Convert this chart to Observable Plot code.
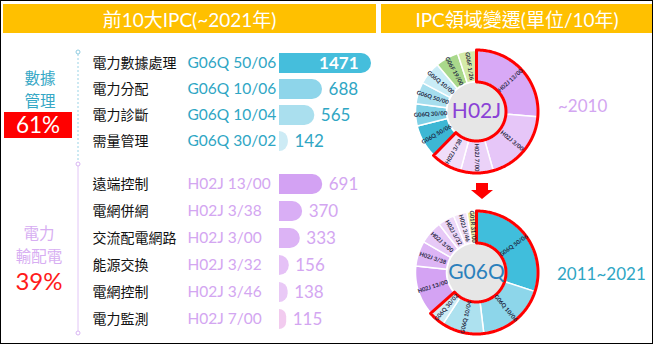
<!DOCTYPE html>
<html><head><meta charset="utf-8">
<script src="https://cdn.jsdelivr.net/npm/d3@7"></script>
<script src="https://cdn.jsdelivr.net/npm/@observablehq/plot@0.6"></script>
<style>
html,body{margin:0;padding:0;background:#fff;}
#frame{position:relative;width:653px;height:344px;box-sizing:border-box;border:1px solid #000;background:#fff;overflow:hidden;font-family:Lato,"Noto Sans CJK TC",sans-serif;}
.hdr{position:absolute;background:#FFC000;color:#fff;font-size:19px;display:flex;align-items:center;justify-content:center;font-family:Lato,"Noto Sans CJK TC",sans-serif;}
.grp{position:absolute;text-align:center;font-family:"Noto Sans CJK TC",sans-serif;overflow:visible;white-space:nowrap;}
</style></head><body>
<div id="frame"></div>
<script>
// ---------- data ----------
const titles = ["前10大IPC(~2021年)", "IPC領域變遷(單位/10年)"];
const groupNames = [["數據","管理"], ["電力","輸配電"]];
const groupShares = ["61%", "39%"];

const cats1 = ["電力數據處理", "電力分配", "電力診斷", "需量管理"];
const codes1 = ["G06Q 50/06", "G06Q 10/06", "G06Q 10/04", "G06Q 30/02"];
const counts1 = [1471, 688, 565, 142];

const cats2 = ["遠端控制", "電網併網", "交流配電網路", "能源交換", "電網控制", "電力監測"];
const codes2 = ["H02J 13/00", "H02J 3/38", "H02J 3/00", "H02J 3/32", "H02J 3/46", "H02J 7/00"];
const counts2 = [691, 370, 333, 156, 138, 115];

const periods = ["~2010", "2011~2021"];
const centerCodes = ["H02J", "G06Q"];

const donut1Labels = ["H02J 13/00", "H02J 3/00", "H02J 7/00", "H02J 3/38", "G06Q 50/06", "G06Q 30/00", "G06Q 50/00", "G06Q 10/00", "G06F 19/00", "G06F 1/26"];
const donut1Shares = [26.4, 19.2, 8.6, 8.1, 8.9, 5.8, 5.8, 6.1, 6.1, 5.0];

const donut2Labels = ["G06Q 50/06", "G06Q 10/06", "G06Q 10/04", "G06Q 30/02", "H02J 13/00", "H02J 3/38", "H02J 3/00", "H02J 3/32", "H02J 3/46", "G01R 31/00"];
const donut2Shares = [30.0, 18.1, 11.1, 4.2, 13.3, 6.7, 6.1, 4.4, 3.6, 2.5];

// ---------- palettes ----------
const barColors1 = ["#45BEDC", "#8ED5EA", "#AADFEE", "#CDEBF5"];
const barColors2 = ["#D3A2F3", "#D9AEF5", "#DCB3F5", "#E5C1F6", "#E9C9F6", "#F2CBEF"];
const donut1Colors = ["#D8A9F6", "#E6C6F8", "#EBD2F8", "#F0DDF9", "#3DB7D4", "#7FD0E6", "#A6DEEE", "#C9ECF6", "#A9D88B", "#D4EBA8"];
const donut2Colors = ["#40BEDC", "#8DD6EA", "#ADE1EF", "#CFECF5", "#D4A3F3", "#DDB5F5", "#E7C9F7", "#EED8F8", "#F3E4F9", "#EEEE9E"];
const TEAL = "#2FA6C4", LAV = "#D3A6F1";
const FONT = "Lato, 'Noto Sans CJK TC', sans-serif";

const frame = document.getElementById("frame");
function place(el, x, y) { el.style.position = "absolute"; el.style.left = (x - 1) + "px"; el.style.top = (y - 1) + "px"; frame.appendChild(el); return el; }
function div(cls, html, css) { const d = document.createElement("div"); if (cls) d.className = cls; d.innerHTML = html; Object.assign(d.style, css || {}); return d; }

// headers
place(div("hdr", titles[0], {width: "373px", height: "29px"}), 3, 4);
place(div("hdr", titles[1], {width: "272px", height: "29px"}), 381, 4);

// group labels (one element per line)
groupNames[0].forEach((t, i) => place(div("grp", t, {width: "80px", height: "22.5px", fontSize: "15.5px", lineHeight: "22.5px", color: "#35A7C5"}), 0, 77.5 - 11.25 + i * 22.5));
place(div("grp", groupShares[0], {width: "68px", height: "26px", lineHeight: "26px", fontSize: "22.5px", color: "#fff", background: "#FF0000", fontFamily: FONT}), 4, 112);
groupNames[1].forEach((t, i) => place(div("grp", t, {width: "78px", height: "22.5px", fontSize: "15.5px", lineHeight: "22.5px", color: "#D7AEF2"}), 0, 232.5 - 11.25 + i * 22.5));
place(div("grp", groupShares[1], {width: "78px", height: "28px", fontSize: "24px", lineHeight: "28px", color: "#FF1A1A", fontFamily: FONT}), 0, 267);

// period labels
place(div("", periods[0], {fontSize: "17px", color: LAV, fontFamily: FONT, lineHeight: "20px"}), 558, 96);
place(div("", periods[1], {fontSize: "17px", color: TEAL, fontFamily: FONT, lineHeight: "20px"}), 557, 264);

// ---------- bar charts ----------
function barChart(cats, codes, counts, colors, codeColor, step) {
  const rows = cats.map((c, i) => ({cat: c, code: codes[i], n: counts[i]}));
  const H = step * cats.length;
  return Plot.plot({
    width: 380, height: H,
    marginLeft: 279, marginRight: 0, marginTop: 0, marginBottom: 0,
    x: {domain: [0, 1471], range: [279, 371], axis: null},
    y: {domain: cats, range: [0, H], paddingInner: 0.25, paddingOuter: 0.125, axis: null},
    color: {domain: cats, range: colors},
    style: {background: "transparent", fontFamily: FONT, overflow: "visible"},
    marks: [
      Plot.barX(rows, {y: "cat", x: "n", fill: "cat", rx2: 10}),
      Plot.text(rows, {y: "cat", text: "cat", frameAnchor: "left", dx: 92 - 279, textAnchor: "start", fontSize: 14, fill: "#111", fontFamily: "'Noto Sans CJK TC', sans-serif"}),
      Plot.text(rows, {y: "cat", text: "code", frameAnchor: "left", dx: 187 - 279, textAnchor: "start", fontSize: 15.5, fill: codeColor}),
      Plot.text(rows.filter(d => d.n >= 1000), {y: "cat", x: "n", text: d => String(d.n), textAnchor: "end", dx: -13, fontSize: 17, fontWeight: "bold", fill: "#fff"}),
      Plot.text(rows.filter(d => d.n < 1000), {y: "cat", x: "n", text: d => String(d.n), textAnchor: "start", dx: 6, fontSize: 17, fill: codeColor})
    ]
  });
}
place(barChart(cats1, codes1, counts1, barColors1, TEAL, 26.5), 0, 62 - 13.25);
place(barChart(cats2, codes2, counts2, barColors2, LAV, 27.8), 0, 182 - 13.9);

// ---------- donuts ----------
function ring(a0, a1, r0, r1, key) {
  const pts = [];
  const n = Math.max(2, Math.ceil((a1 - a0) / (Math.PI / 180)));
  for (let k = 0; k <= n; k++) { const a = a0 + (a1 - a0) * k / n; pts.push({x: r1 * Math.sin(a), y: r1 * Math.cos(a), key}); }
  for (let k = n; k >= 0; k--) { const a = a0 + (a1 - a0) * k / n; pts.push({x: r0 * Math.sin(a), y: r0 * Math.cos(a), key}); }
  pts.push({...pts[0]});
  return pts;
}
function donut(labels, shares, colors, hiCount, center, centerColor) {
  const R0 = 30, R1 = 61, RM = 46;
  const arcs = d3.pie().sort(null).value(d => d)(shares);
  const polys = arcs.flatMap((a, i) => ring(a.startAngle, a.endAngle, R0, R1, labels[i]));
  const outline = ring(arcs[0].startAngle, arcs[hiCount - 1].endAngle, R0 - 0.5, R1 + 0.5, "hi");
  const lab = arcs.map((a, i) => {
    const m = (a.startAngle + a.endAngle) / 2, deg = m * 180 / Math.PI;
    return {x: RM * Math.sin(m), y: RM * Math.cos(m), text: labels[i], rot: deg < 180 ? deg - 90 : deg + 90};
  });
  return Plot.plot({
    width: 140, height: 140, margin: 0,
    x: {domain: [-70, 70], axis: null}, y: {domain: [-70, 70], axis: null},
    color: {domain: labels, range: colors},
    style: {background: "transparent", fontFamily: FONT, overflow: "visible"},
    marks: [
      Plot.line(polys, {x: "x", y: "y", z: "key", fill: "key", stroke: "white", strokeWidth: 1.5, curve: "linear"}),
      Plot.dot([{x: 0, y: 0}], {x: "x", y: "y", r: R0 - 1, fill: "#E6E6E6"}),
      Plot.line(outline, {x: "x", y: "y", stroke: "#F00", strokeWidth: 3, strokeLinejoin: "round", curve: "linear"}),
      Plot.text(lab, {x: "x", y: "y", text: "text", rotate: "rot", fontSize: 5.8, fontWeight: "bold", fill: "#1E2540"}),
      Plot.text([{x: 0, y: 0, t: center}], {x: "x", y: "y", text: "t", fontSize: 21, fill: centerColor})
    ]
  });
}
place(donut(donut1Labels, donut1Shares, donut1Colors, 4, centerCodes[0], "#8A42D6"), 476 - 70, 111 - 70);
place(donut(donut2Labels, donut2Shares, donut2Colors, 4, centerCodes[1], "#2B80BC"), 476 - 70, 272 - 70);

// ---------- decorations ----------
const ns = "http://www.w3.org/2000/svg";
const deco = document.createElementNS(ns, "svg");
deco.setAttribute("width", 654); deco.setAttribute("height", 345);
deco.style.pointerEvents = "none";
deco.innerHTML = `
  <line x1="78" y1="54" x2="78" y2="161" stroke="#9AD3E6" stroke-width="1" stroke-dasharray="2,2"/>
  <circle cx="78" cy="52" r="2" fill="#fff" stroke="#8FCBE0"/>
  <line x1="78" y1="166" x2="78" y2="331" stroke="#E2C6F6" stroke-width="1"/>
  <circle cx="78" cy="164" r="2" fill="#fff" stroke="#D9B5F3"/>
  <circle cx="78" cy="333" r="2" fill="#fff" stroke="#D9B5F3"/>
  <polygon points="476,183 488,183 488,190 493,190 482,199 471,190 476,190" fill="#F00"/>`;
place(deco, 0, 0);
</script>
</body></html>
